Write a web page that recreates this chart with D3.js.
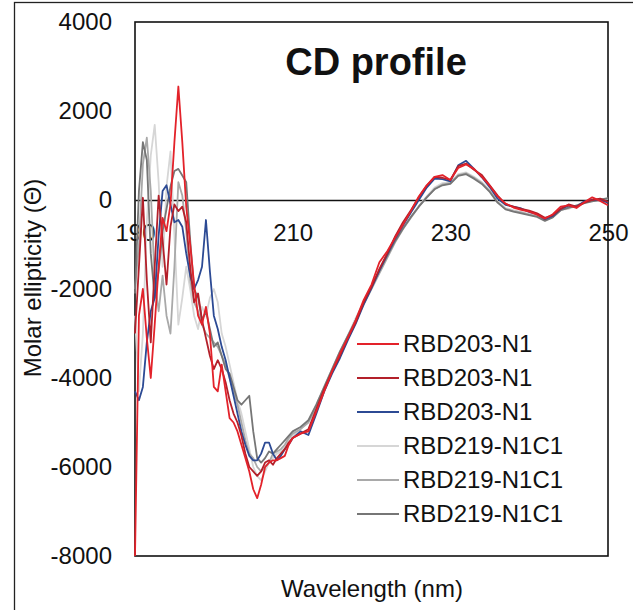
<!DOCTYPE html>
<html><head><meta charset="utf-8">
<script src="https://cdn.jsdelivr.net/npm/d3@7"></script>
<style>body{margin:0;background:#fff} text{font-family:"Liberation Sans", Arial, Helvetica, sans-serif;fill:#111}</style>
</head><body><svg id="c" width="633" height="610"></svg>
<script>
const wavelengths = [190,190.5,191,191.5,192,192.5,193,193.5,194,194.5,195,195.5,196,196.5,197,197.5,198,198.5,199,199.5,200,200.5,201,201.5,202,202.5,203,203.5,204,204.5,205,205.5,206,206.5,207,207.5,208,208.5,209,209.5,210,
211,212,213,214,215,216,217,218,219,220,221,222,223,224,225,226,227,228,229,230,231,232,233,234,235,236,237,238,239,240,241,242,243,244,245,246,247,248,249,250];

const seriesNames = ["RBD203-N1","RBD203-N1","RBD203-N1","RBD219-N1C1","RBD219-N1C1","RBD219-N1C1"];
const seriesColors = ["#e3222a","#b3202a","#2c4a94","#d6d6d6","#a9a9a9","#767676"];

const s1 = [-8000,-2600,-2000,-3100,-4000,-2800,-1500,-400,-700,-100,1300,2550,1300,-150,-1000,-1900,-2600,-2800,-2400,-3000,-4200,-4300,-3700,-4300,-4900,-5000,-5200,-5500,-5800,-6100,-6500,-6700,-6400,-6000,-5900,-5850,-5850,-5800,-5750,-5500,-5350,
-5250,-5200,-4750,-4300,-3850,-3450,-3100,-2700,-2250,-1900,-1400,-1150,-850,-550,-250,80,330,520,560,450,720,800,700,520,320,80,-80,-170,-220,-260,-330,-420,-320,-150,-120,-180,-50,60,-20,-120];
const s2 = [-3000,-1500,50,-1800,-3200,-1500,100,-900,-1900,-600,-100,-250,-150,-500,-1500,-2300,-2100,-2700,-3100,-3500,-3800,-3600,-3800,-4100,-4500,-4800,-5000,-5300,-5700,-6000,-6100,-6200,-6100,-5900,-5850,-5950,-5800,-5700,-5600,-5450,-5350,
-5250,-5150,-4700,-4250,-3850,-3500,-3100,-2750,-2300,-1950,-1550,-1200,-820,-500,-230,60,320,520,500,450,760,820,680,560,330,100,-90,-150,-200,-240,-300,-400,-340,-200,-100,-150,-60,0,30,-40];
const s3 = [-4300,-4500,-4200,-3200,-2500,-2200,-800,200,330,-100,-500,-450,-600,-1200,-1700,-2000,-1800,-1500,-450,-1600,-2600,-2900,-3300,-3600,-4000,-4400,-4800,-5200,-5500,-5750,-5850,-5850,-5700,-5450,-5450,-5700,-5850,-5750,-5600,-5500,-5350,
-5200,-5280,-4800,-4300,-3900,-3550,-3150,-2780,-2350,-1980,-1580,-1220,-870,-570,-280,0,280,480,470,420,780,880,700,510,290,30,-110,-150,-190,-270,-310,-430,-360,-200,-130,-150,-30,10,0,-60];
const s4 = [-2600,-4300,-3000,-500,1000,1690,400,-1500,300,1090,-800,-2800,-2200,-1500,-2000,-2600,-2900,-2400,-2600,-2200,-2000,-2300,-3000,-3300,-3700,-4100,-4500,-4800,-5200,-5600,-6000,-6200,-6300,-6100,-5900,-5800,-5700,-5650,-5550,-5400,-5300,
-5150,-4950,-4600,-4200,-3800,-3400,-3050,-2650,-2300,-1950,-1600,-1250,-900,-620,-380,-130,80,280,380,400,580,620,520,400,220,-30,-180,-230,-270,-320,-350,-460,-380,-220,-200,-120,-60,-10,10,30];
const s5 = [-2000,-1000,800,1400,200,-1800,-2500,-1700,-2600,-3000,-1500,400,100,-700,-1800,-2300,-2500,-2800,-3000,-3100,-3200,-3300,-3500,-3700,-4000,-4300,-4600,-5000,-5400,-5700,-5800,-6000,-6100,-6000,-5900,-5700,-5650,-5600,-5500,-5350,-5250,
-5150,-5000,-4650,-4250,-3850,-3450,-3100,-2700,-2350,-2000,-1650,-1300,-950,-650,-400,-150,50,250,350,380,560,600,500,380,200,-50,-200,-250,-280,-330,-360,-450,-380,-220,-180,-120,-60,-20,0,20];
const s6 = [-2100,200,1300,900,-1200,-2200,-1600,-700,-200,300,650,700,550,400,-900,-2000,-2200,-2700,-2500,-2900,-3300,-3200,-3500,-3800,-3900,-4200,-4500,-4600,-4500,-4400,-5200,-5800,-5900,-5800,-5650,-5700,-5600,-5500,-5400,-5300,-5200,
-5100,-4950,-4600,-4200,-3800,-3400,-3050,-2700,-2300,-1950,-1600,-1250,-920,-640,-380,-150,60,240,330,360,540,580,480,360,180,-60,-210,-260,-300,-340,-380,-470,-390,-230,-170,-130,-70,-30,10,40];

const yTicks = [-8000,-6000,-4000,-2000,0,2000,4000];
const xTicks = [190,210,230,250];
const titleText = "CD profile";
const xTitle = "Wavelength (nm)";
const yTitle = "Molar ellipticity (Θ)";

const allSeries = [s1,s2,s3,s4,s5,s6];
const svg = d3.select('#c');
const P = {l:135, r:608, t:22, b:556};
const x = d3.scaleLinear().domain([190,250]).range([P.l,P.r]);
const y = d3.scaleLinear().domain([-8000,4000]).range([P.b,P.t]);
const FS = 24;

// outer frame
svg.append('rect').attr('x',14.5).attr('y',2.5).attr('width',640).attr('height',640)
  .attr('fill','none').attr('stroke','#222').attr('stroke-width',1.3);

// plot frame
svg.append('rect').attr('x',P.l).attr('y',P.t).attr('width',P.r-P.l).attr('height',P.b-P.t)
  .attr('fill','none').attr('stroke','#111').attr('stroke-width',1.6);

// y axis labels
const yAx = svg.append('g').attr('transform',`translate(${P.l},0)`)
  .call(d3.axisLeft(y).tickValues(yTicks).tickSize(0).tickPadding(23).tickFormat(d=>String(d)));
yAx.select('.domain').remove();
yAx.selectAll('text').attr('font-size',FS).attr('font-family','"Liberation Sans", Arial, sans-serif').attr('fill','#111');

// x axis on zero line
const xAx = svg.append('g').attr('transform',`translate(0,${y(0)})`)
  .call(d3.axisBottom(x).tickValues(xTicks).tickSize(0).tickSizeOuter(0).tickPadding(24).tickFormat(d=>String(d)));
xAx.select('.domain').attr('stroke','#111').attr('stroke-width',1.6);
xAx.selectAll('text').attr('font-size',FS).attr('font-family','"Liberation Sans", Arial, sans-serif').attr('fill','#111');

// clip
svg.append('clipPath').attr('id','clip').append('rect')
  .attr('x',P.l-1).attr('y',P.t-1).attr('width',P.r-P.l+2).attr('height',P.b-P.t+2);

const line = d3.line().x((d,i)=>x(wavelengths[i])).y(d=>y(d));
const order = [3,4,5,2,1,0];
const g = svg.append('g').attr('clip-path','url(#clip)');
order.forEach(k=>{
  g.append('path').datum(allSeries[k]).attr('d',line).attr('fill','none')
   .attr('stroke',seriesColors[k]).attr('stroke-width',1.8).attr('stroke-linejoin','round');
});

// title
svg.append('text').attr('x',376).attr('y',75).attr('text-anchor','middle')
  .attr('font-size',38).attr('font-weight','bold').text(titleText);

// axis titles
svg.append('text').attr('x',372).attr('y',597).attr('text-anchor','middle').attr('font-size',FS).text(xTitle);
svg.append('text').attr('transform','translate(41,278) rotate(-90)').attr('text-anchor','middle').attr('font-size',FS).text(yTitle);

// legend
const lg = svg.append('g');
seriesNames.forEach((n,i)=>{
  const yy = 344 + i*34;
  lg.append('line').attr('x1',357).attr('x2',399).attr('y1',yy).attr('y2',yy)
    .attr('stroke',seriesColors[i]).attr('stroke-width',1.8);
  lg.append('text').attr('x',403).attr('y',yy).attr('dy','0.35em').attr('font-size',FS).text(n);
});
</script></body></html>
